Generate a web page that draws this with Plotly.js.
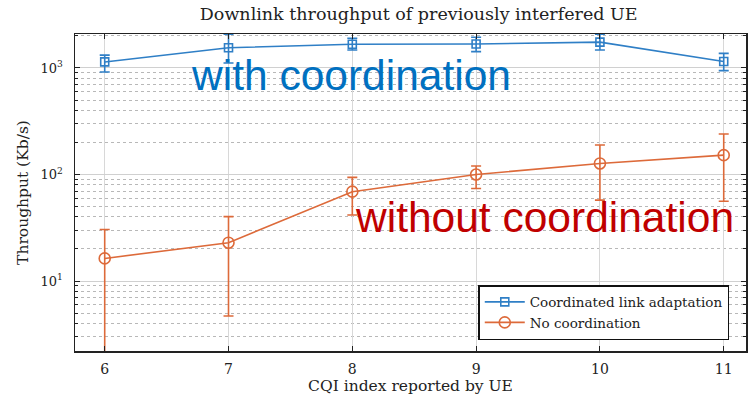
<!DOCTYPE html>
<html>
<head>
<meta charset="utf-8">
<script src="https://cdn.plot.ly/plotly-3.0.1.min.js"></script>
<style>html,body{margin:0;padding:0;background:#fff;}#chart{width:749px;height:403px;}</style>
</head>
<body>
<div id="chart"></div>
<script>
// CQI index categories
const cqi = [6, 7, 8, 9, 10, 11];
// Coordinated link adaptation (Kb/s)
const coordMean  = [1140, 1550, 1670, 1680, 1750, 1150];
const coordUpper = [1320, 2080, 1900, 1940, 2070, 1370];
const coordLower = [917, 1115, 1475, 1425, 1475, 944];
// No coordination (Kb/s)
const noMean  = [16.3, 22.9, 69, 100, 127, 152];
const noUpper = [30.5, 40.2, 94, 120, 189, 240];
const noLower = [1.0, 4.7, 41.7, 74, 57.5, 56];
// Series names and y tick labels
const seriesNames = ['Coordinated link adaptation', 'No coordination'];
const yTickVals = [10, 100, 1000];
const yTickText = ['10<sup>1</sup>', '10<sup>2</sup>', '10<sup>3</sup>'];

const plus = (u, m) => u.map((v, i) => v - m[i]);
const minus = (l, m) => m.map((v, i) => v - l[i]);

const blue = '#2f7fc6';
const orange = '#dd6a3a';

const traces = [
  {
    x: cqi, y: coordMean, name: seriesNames[0],
    type: 'scatter', mode: 'lines+markers',
    line: {color: blue, width: 1.6},
    marker: {symbol: 'square-open', size: 8, color: blue, line: {width: 1.6}},
    error_y: {type: 'data', symmetric: false, array: plus(coordUpper, coordMean), arrayminus: minus(coordLower, coordMean), color: blue, thickness: 1.6, width: 5}
  },
  {
    x: cqi, y: noMean, name: seriesNames[1],
    type: 'scatter', mode: 'lines+markers',
    line: {color: orange, width: 1.6},
    marker: {symbol: 'circle-open', size: 11, color: orange, line: {width: 1.6}},
    error_y: {type: 'data', symmetric: false, array: plus(noUpper, noMean), arrayminus: minus(noLower, noMean), color: orange, thickness: 1.6, width: 5}
  }
];

const serif = "'DejaVu Serif', serif";
const sans = "'Liberation Sans', Arial, sans-serif";

const layout = {
  width: 749, height: 403,
  margin: {l: 75, r: 3, t: 34, b: 52},
  paper_bgcolor: '#fff', plot_bgcolor: '#fff',
  font: {family: serif, color: '#222', size: 13},
  title: {text: 'Downlink throughput of previously interfered UE', x: 0.559, xanchor: 'center', y: 0.982, yanchor: 'top', font: {family: serif, size: 17.5, color: '#222'}},
  xaxis: {
    range: [5.76, 11.18], tickvals: cqi, ticks: 'inside', ticklen: 5, tickcolor: '#222',
    showline: true, linecolor: '#222', linewidth: 1.5, mirror: 'ticks',
    showgrid: true, gridcolor: '#d8d8d8', gridwidth: 1, zeroline: false,
    ticklabelstandoff: 5,
    tickfont: {family: serif, size: 14},
    title: {text: 'CQI index reported by UE', font: {family: serif, size: 15.5}, standoff: 4}
  },
  yaxis: {
    type: 'log', range: [0.343, 3.319], tickvals: yTickVals, ticktext: yTickText,
    ticks: 'inside', ticklen: 5, tickcolor: '#222',
    showline: true, linecolor: '#222', linewidth: 1.5, mirror: 'ticks',
    showgrid: true, gridcolor: '#d0d0d0', gridwidth: 1, zeroline: false,
    minor: {dtick: 'D1', showgrid: true, gridcolor: '#b8b8b8', griddash: 'dot', gridwidth: 1, ticks: 'inside', ticklen: 3, tickcolor: '#222'},
    ticklabelstandoff: 8,
    tickfont: {family: serif, size: 13},
    title: {text: 'Throughput (Kb/s)', font: {family: serif, size: 15.5}, standoff: 8}
  },
  showlegend: true,
  legend: {
    x: 0.601, y: 0.208, xanchor: 'left', yanchor: 'top',
    bgcolor: '#fff', bordercolor: '#111', borderwidth: 1.5,
    font: {family: serif, size: 13.5, color: '#222'},
    itemwidth: 40,
    tracegroupgap: 0
  },
  annotations: [
    {text: 'with coordination', xref: 'paper', yref: 'paper', x: 0.411, y: 0.868, xanchor: 'center', yanchor: 'middle', showarrow: false, font: {family: sans, size: 42.5, color: '#0070c0'}},
    {text: 'without coordination', xref: 'paper', yref: 'paper', x: 0.70, y: 0.422, xanchor: 'center', yanchor: 'middle', showarrow: false, font: {family: sans, size: 42.5, color: '#c00000'}}
  ]
};

Plotly.newPlot('chart', traces, layout, {displayModeBar: false, staticPlot: true});
</script>
</body>
</html>
